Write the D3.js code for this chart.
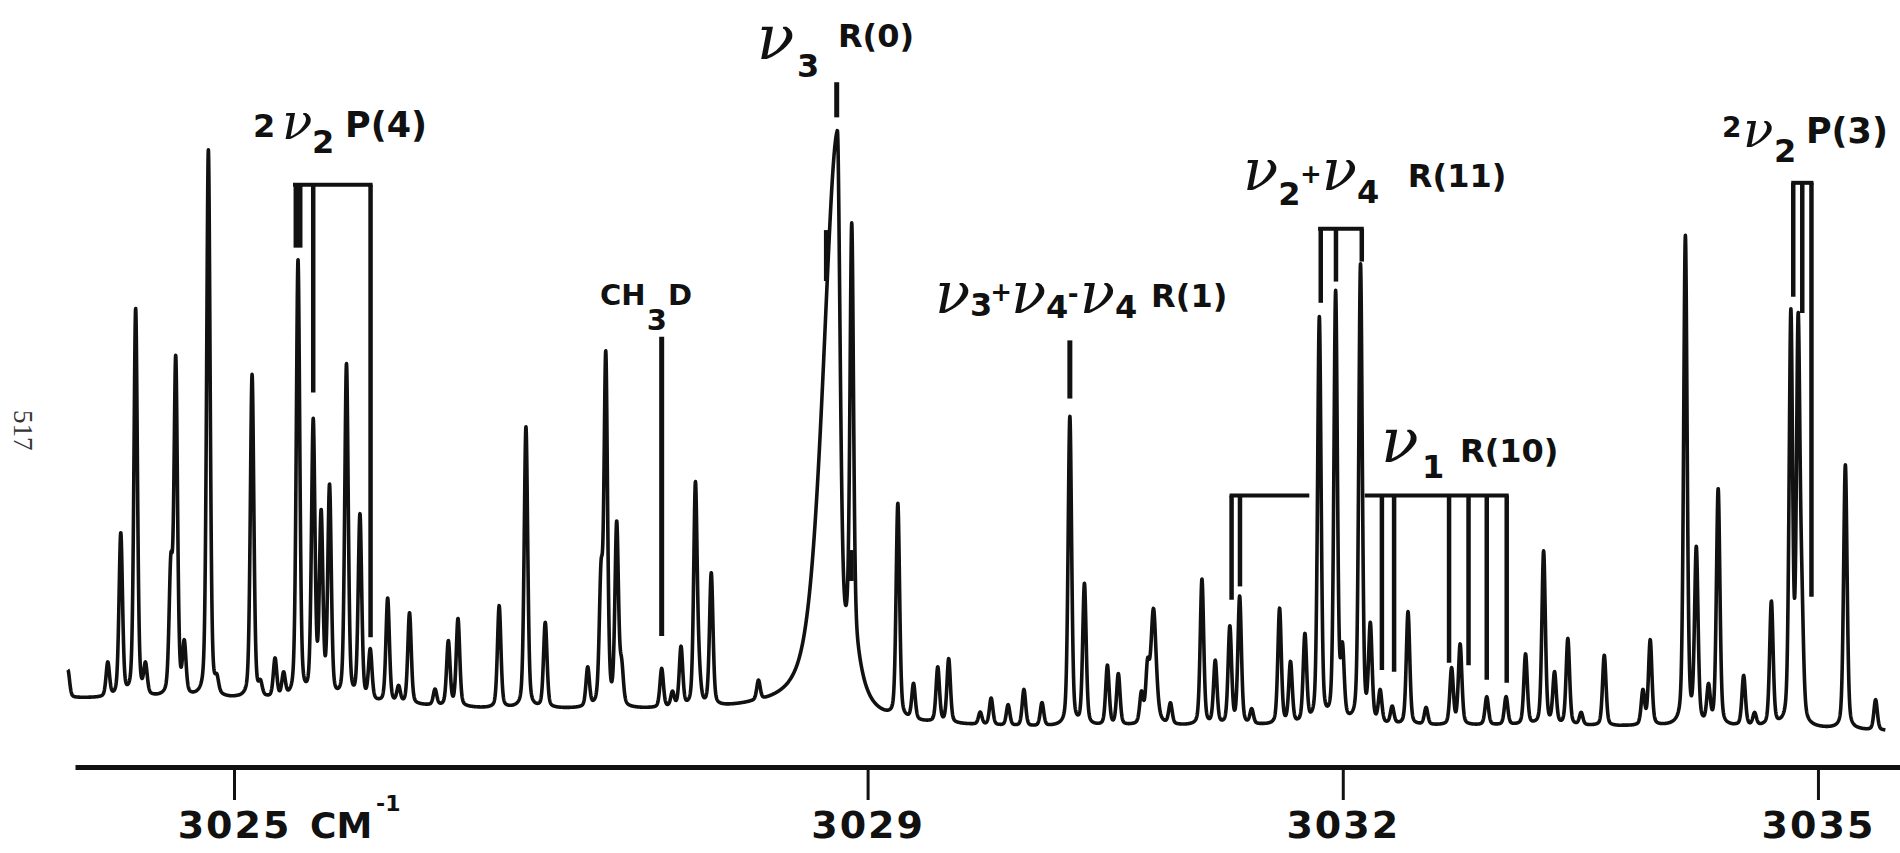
<!DOCTYPE html>
<html><head><meta charset="utf-8">
<script src="https://cdn.jsdelivr.net/npm/d3@7"></script>
<style>
body{margin:0;background:#fff}
svg{display:block}
</style>
</head><body>
<svg id="chart" width="1900" height="853"></svg>
<script>
// ---------------- DATA ----------------
// axis ticks (wavenumber, cm^-1)
const tickValues = [3025, 3029, 3032, 3035];
const tickLabels = ["3025", "3029", "3032", "3035"];
const axisUnit = "CM";
const axisUnitExp = "-1";

// recorder baseline: [wavenumber, level]
const baselineWn    = [3023.943, 3025.053, 3025.818, 3026.582, 3027.194, 3028.265, 3029.336, 3030.025, 3031.555, 3033.085, 3034.615, 3035.426];
const baselineLevel = [4.8, 4.6, 4.0, 3.0, 2.8, 2.4, 0.6, 0.0, 0.3, 0.3, 0.0, -0.6];

// sharp absorption lines: centre (cm^-1) and height above baseline
const lineCentres = [
  3023.951, 3024.203, 3024.285, 3024.379, 3024.441, 3024.601, 3024.632, 3024.686, 3024.838, 3024.892,
  3025.114, 3025.167, 3025.259, 3025.313, 3025.404, 3025.500, 3025.550, 3025.603, 3025.710, 3025.795,
  3025.860, 3025.970, 3026.039, 3026.108, 3026.269, 3026.353, 3026.414, 3026.674, 3026.843, 3026.965,
  3027.233, 3027.317, 3027.347, 3027.416, 3027.447, 3027.700, 3027.768, 3027.822, 3027.913, 3027.936,
  3028.013, 3028.311, 3028.900, 3029.191, 3029.290, 3029.443, 3029.512, 3029.711, 3029.780, 3029.887,
  3029.987, 3030.101, 3030.277, 3030.369, 3030.514, 3030.583, 3030.729, 3030.767, 3030.912, 3031.111,
  3031.195, 3031.287, 3031.349, 3031.425, 3031.601, 3031.670, 3031.761, 3031.852, 3031.955, 3031.998,
  3032.112, 3032.174, 3032.236, 3032.312, 3032.412, 3032.526, 3032.687, 3032.741, 3032.909, 3033.031,
  3033.154, 3033.268, 3033.337, 3033.421, 3033.505, 3033.651, 3033.895, 3033.941, 3034.163, 3034.232,
  3034.309, 3034.370, 3034.531, 3034.600, 3034.706, 3034.829, 3034.875, 3034.898, 3035.173, 3035.364
];
const lineHeights = [
  4.6, 5.6, 26.8, 64.0, 4.8, 20.0, 55.0, 8.2, 90.4, 2.2,
  53.4, 2.0, 6.4, 3.8, 72.2, 45.2, 29.6, 34.6, 55.2, 30.4,
  8.2, 17.2, 2.6, 15.0, 2.6, 10.6, 14.4, 16.8, 46.4, 14.0,
  6.4, 20.0, 57.2, 29.8, 6.0, 6.4, 2.4, 9.8, 36.4, 4.0,
  21.8, 3.2, 67.5, 35.2, 5.8, 9.0, 10.5, 2.0, 4.4, 3.4,
  6.0, 3.8, 51.0, 23.2, 9.8, 8.4, 4.8, 8.0, 3.4, 24.0,
  10.4, 16.0, 21.0, 2.4, 19.0, 10.0, 14.4, 66.8, 70.8, 11.0,
  75.6, 15.6, 5.2, 2.8, 18.6, 2.8, 9.2, 13.2, 4.6, 4.6,
  11.6, 28.6, 8.4, 14.2, 2.0, 11.6, 5.6, 14.0, 80.6, 28.6,
  6.0, 39.0, 8.2, 2.0, 20.4, 67.2, 64.2, 16.0, 43.6, 5.0
];

// broad / asymmetric bands: centre, height, hwhm left, hwhm right, lorentz fraction
const bandCentres = [3028.809, 3028.900, 3030.805];
const bandHeights = [92, 12, 19];
const bandHwhmLeft  = [0.107, 0.07, 0.02];
const bandHwhmRight = [0.021, 0.07, 0.02];
const bandLorentz   = [0.5, 1.0, 0.5];

// assignment marks: [wavenumber, top level, bottom level]
const markerLines = [
  [3028.805, 106.4, 100.6],   // nu3 R(0)
  [3028.740, 82.0, 73.6],
  [3028.897, 29.2, 24.1],
  [3027.700, 64.4, 15.0],     // CH3D
  [3030.277, 63.8, 54.2]      // nu3+nu4-nu4 R(1)
];

// bracket groups: level of the top bar, bar extent, legs [wavenumber, bottom level]
const brackets = [
  {level: 89.5, from: 3025.385, to: 3025.862,
   legs: [[3025.390, 79.1], [3025.418, 79.1], [3025.500, 55.2], [3025.862, 14.8]]},     // 2nu2 P(4)
  {level: 82.2, from: 3031.857, to: 3032.120,
   legs: [[3031.861, 70.0], [3031.957, 73.5], [3032.120, 76.8]]},                        // nu2+nu4 R(11)
  {level: 38.2, from: 3031.298, to: 3031.776,
   legs: [[3031.298, 21.0], [3031.351, 23.2]]},                                          // nu1 R(10), left part
  {level: 38.2, from: 3032.151, to: 3033.035,
   legs: [[3032.247, 9.4], [3032.324, 9.1], [3032.671, 10.6], [3032.794, 10.2], [3032.909, 7.8], [3033.035, 7.3]]},
  {level: 89.8, from: 3034.844, to: 3034.959,
   legs: [[3034.844, 71.0], [3034.901, 68.3], [3034.959, 21.5]]}                          // 2nu2 P(3)
];

// labels: pieces [text, kind, wavenumber, level]
const labelPieces = [
  ["2", "cap", 3025.120, 97.4], ["ν", "nuSmall", 3025.303, 97.0], ["2", "sub", 3025.492, 94.7], ["P(4)", "capL", 3025.701, 97.4],
  ["ν", "nuBig", 3028.300, 110.2], ["3", "sub", 3028.554, 107.3], ["R(0)", "cap", 3028.813, 112.2],
  ["CH", "capS", 3027.310, 69.6], ["3", "subS", 3027.606, 65.5], ["D", "capS", 3027.740, 69.6],
  ["ν", "nu", 3029.425, 68.3], ["3", "sub", 3029.646, 67.8], ["+", "op", 3029.774, 70.3],
  ["ν", "nu", 3029.905, 68.3], ["4", "sub", 3030.127, 67.5], ["-", "op", 3030.263, 70.0],
  ["ν", "nu", 3030.340, 68.3], ["4", "sub", 3030.562, 67.5], ["R(1)", "cap", 3030.790, 69.3],
  ["ν", "nu", 3031.370, 88.6], ["2", "sub", 3031.592, 86.1], ["+", "op", 3031.730, 89.8],
  ["ν", "nu", 3031.868, 88.6], ["4", "sub", 3032.090, 86.5], ["R(11)", "cap", 3032.411, 89.1],
  ["ν", "nuBig", 3032.241, 43.7], ["1", "sub", 3032.500, 41.1], ["R(10)", "cap", 3032.740, 43.7],
  ["2", "small", 3034.394, 97.4], ["ν", "nuSmall", 3034.527, 95.7], ["2", "sub", 3034.722, 93.2], ["P(3)", "capL", 3034.924, 96.4]
];
const pageNumber = "517";

// ---------------- DRAWING ----------------
const svg = d3.select("#chart");
const W = 1900, H = 853;
svg.append("rect").attr("width", W).attr("height", H).attr("fill", "#fff");

const x = d3.scaleLinear().domain([3023.996, 3035.518]).range([75, 1900]);
const y = d3.scaleLinear().domain([0, 100]).range([727, 121]);
const baseline = d3.scaleLinear().domain(baselineWn).range(baselineLevel).clamp(true);

const INK = "#111";
const LINE_HWHM = 0.013, LINE_ETA = 0.35;
function pv(d, w, eta) {
  const u = (d / w) * (d / w);
  return eta / (1 + u) + (1 - eta) * Math.exp(-Math.LN2 * u);
}
function level(wn) {
  let v = baseline(wn);
  for (let i = 0; i < lineCentres.length; i++) {
    const d = wn - lineCentres[i];
    if (Math.abs(d) < 0.4) v += lineHeights[i] * pv(d, LINE_HWHM, LINE_ETA);
  }
  for (let i = 0; i < bandCentres.length; i++) {
    const d = wn - bandCentres[i];
    const w = d < 0 ? bandHwhmLeft[i] : bandHwhmRight[i];
    v += bandHeights[i] * pv(d, w, bandLorentz[i]);
  }
  return v;
}
const wnStart = baselineWn[0] + 0.008, wnEnd = baselineWn[baselineWn.length - 1];
const samples = d3.range(wnStart, wnEnd, 0.0012).map(wn => [wn, level(wn)]);

svg.append("path")
  .datum(samples)
  .attr("fill", "none")
  .attr("stroke", INK)
  .attr("stroke-width", 3.6)
  .attr("stroke-linejoin", "round")
  .attr("d", d3.line().x(d => x(d[0])).y(d => y(d[1])));

// assignment marks
svg.append("g").selectAll("line").data(markerLines).join("line")
  .attr("x1", d => x(d[0])).attr("x2", d => x(d[0]))
  .attr("y1", d => y(d[1])).attr("y2", d => y(d[2]))
  .attr("stroke", INK).attr("stroke-width", 5);

// brackets
const bg = svg.append("g").attr("stroke", INK).attr("fill", "none");
brackets.forEach(b => {
  bg.append("line").attr("x1", x(b.from)).attr("x2", x(b.to))
    .attr("y1", y(b.level)).attr("y2", y(b.level)).attr("stroke-width", 4).attr("stroke-linecap", "square");
  b.legs.forEach(l => {
    bg.append("line").attr("x1", x(l[0])).attr("x2", x(l[0]))
      .attr("y1", y(b.level)).attr("y2", y(l[1])).attr("stroke-width", 4.5);
  });
});

// labels
const styles = {
  cap:     {font: "DejaVu Sans", size: 32, weight: "bold", style: "normal"},
  capL:    {font: "DejaVu Sans", size: 35, weight: "bold", style: "normal"},
  capS:    {font: "DejaVu Sans", size: 29, weight: "bold", style: "normal"},
  small:   {font: "DejaVu Sans", size: 28, weight: "bold", style: "normal"},
  sub:     {font: "DejaVu Sans", size: 32, weight: "bold", style: "normal"},
  subS:    {font: "DejaVu Sans", size: 29, weight: "bold", style: "normal"},
  op:      {font: "DejaVu Sans", size: 26, weight: "bold", style: "normal"},
  nu:      {font: "DejaVu Serif", size: 58, weight: "normal", style: "italic"},
  nuSmall: {font: "DejaVu Serif", size: 50, weight: "normal", style: "italic"},
  nuBig:   {font: "DejaVu Serif", size: 62, weight: "normal", style: "italic"}
};
svg.append("g").selectAll("text").data(labelPieces).join("text")
  .attr("x", d => x(d[2])).attr("y", d => y(d[3]))
  .attr("font-family", d => styles[d[1]].font)
  .attr("font-size", d => styles[d[1]].size)
  .attr("font-weight", d => styles[d[1]].weight)
  .attr("font-style", d => styles[d[1]].style)
  .attr("fill", INK)
  .text(d => d[0]);

// axis
const axisG = svg.append("g").attr("transform", "translate(0,767)");
axisG.call(d3.axisBottom(x).tickValues(tickValues).tickSize(33).tickSizeOuter(0)
  .tickPadding(11).tickFormat((d, i) => tickLabels[i]));
axisG.select(".domain").attr("stroke", INK).attr("stroke-width", 5);
axisG.selectAll(".tick line").attr("stroke", INK).attr("stroke-width", 3);
axisG.selectAll(".tick text").attr("fill", INK)
  .attr("font-family", "DejaVu Sans").attr("font-weight", "bold").attr("font-size", 38)
  .attr("letter-spacing", 2);
// unit after the first tick label
const firstX = x(tickValues[0]);
axisG.append("text").attr("x", firstX + 76).attr("y", 71).attr("text-anchor", "start")
  .attr("font-family", "DejaVu Sans").attr("font-weight", "bold").attr("font-size", 36)
  .attr("fill", INK).text(axisUnit);
axisG.append("text").attr("x", firstX + 142).attr("y", 44).attr("text-anchor", "start")
  .attr("font-family", "DejaVu Sans").attr("font-weight", "bold").attr("font-size", 22)
  .attr("fill", INK).text(axisUnitExp);

// page number at the margin
svg.append("text").attr("transform", "translate(14,410) rotate(90)")
  .attr("font-family", "Liberation Serif").attr("font-size", 27).attr("fill", "#333")
  .text(pageNumber);
</script>
</body></html>
